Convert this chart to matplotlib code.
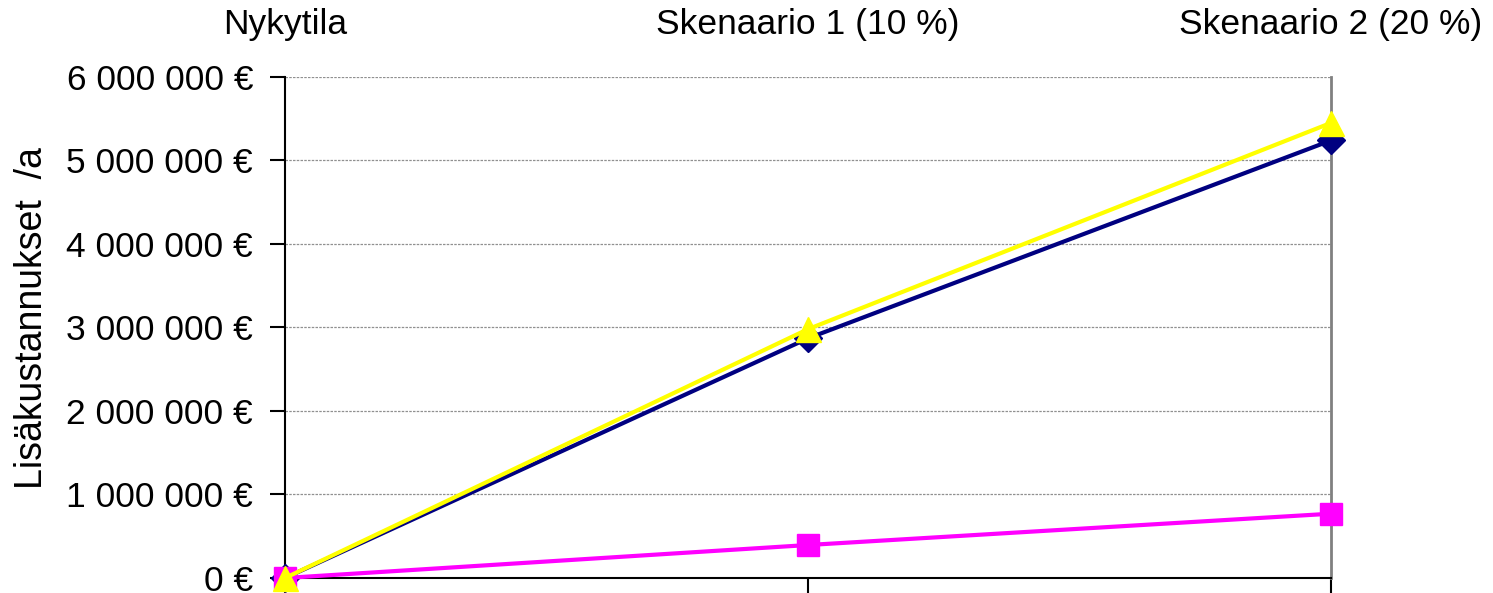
import matplotlib
matplotlib.use("Agg")
import matplotlib.pyplot as plt
from matplotlib.ticker import FuncFormatter, MultipleLocator

plt.rcParams["font.family"] = ["Liberation Sans", "DejaVu Sans"]

categories = ["Nykytila", "Skenaario 1 (10 %)", "Skenaario 2 (20 %)"]
navy_values = [0, 2_870_000, 5_240_000]
magenta_values = [0, 395_000, 770_000]
yellow_values = [0, 2_980_000, 5_450_000]


def euro(value, _pos):
    text = f"{int(round(value)):,}".replace(",", " ")
    return f"{text} €"


fig = plt.figure(figsize=(14.93, 5.93), dpi=100)
ax = fig.add_axes([0.1909, 0.0253, 0.7006, 0.8449])

x = range(len(categories))
ax.plot(x, navy_values, color="#000080", lw=3, marker="D", markersize=14,
        clip_on=False, zorder=3)
ax.plot(x, magenta_values, color="#FF00FF", lw=3, marker="s", markersize=16,
        clip_on=False, zorder=4)
ax.plot(x, yellow_values, color="#FFFF00", lw=3, marker="^", markersize=18,
        clip_on=False, zorder=5)

ax.set_xlim(0, 2)
ax.set_ylim(0, 6_000_000)
ax.yaxis.set_major_locator(MultipleLocator(1_000_000))
ax.yaxis.set_major_formatter(FuncFormatter(euro))
ax.grid(axis="y", color="#909090", linestyle=(0, (2, 1)), linewidth=0.9)

ax.set_xticks(list(x))
ax.set_xticklabels(categories)
ax.tick_params(axis="x", bottom=True, top=False, labelbottom=False,
               labeltop=True, direction="out", length=16, width=1.5,
               pad=10, labelsize=25.5)
ax.tick_params(axis="y", direction="out", length=11, width=1.5,
               labelsize=25.5, pad=12)

ax.spines["top"].set_visible(False)
ax.spines["right"].set_color("#808080")
ax.spines["right"].set_linewidth(2)
ax.spines["left"].set_linewidth(1.5)
ax.spines["bottom"].set_linewidth(1.5)

ax.set_ylabel("Lisäkustannukset  /a", fontsize=27)
ax.yaxis.set_label_coords(-0.225, 0.518)

fig.savefig("out.png", dpi=100)
